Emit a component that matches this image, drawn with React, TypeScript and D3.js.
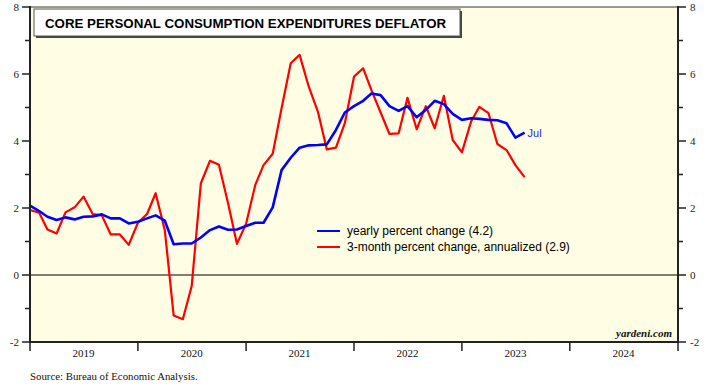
import * as d3 from "d3";

// monthly, Dec 2018 .. Jul 2023 (plotted at month end)
const yearly = [
  2.07,
  1.91, 1.74, 1.64, 1.72, 1.66, 1.74, 1.75, 1.81, 1.69, 1.69, 1.54, 1.59,
  1.69, 1.78, 1.62, 0.92, 0.94, 0.94, 1.12, 1.34, 1.45, 1.35, 1.36, 1.46,
  1.56, 1.56, 2.02, 3.13, 3.5, 3.8, 3.87, 3.88, 3.9, 4.33, 4.85, 5.04,
  5.2, 5.42, 5.37, 5.04, 4.9, 5.04, 4.71, 4.93, 5.2, 5.1, 4.81, 4.63,
  4.68, 4.66, 4.63, 4.62, 4.53, 4.1, 4.25,
];
const threeMonth = [
  1.94,
  1.86, 1.36, 1.24, 1.87, 2.02, 2.34, 1.82, 1.78, 1.21, 1.21, 0.9, 1.56,
  1.82, 2.44, 1.34, -1.21, -1.32, -0.33, 2.74, 3.41, 3.29, 2.14, 0.93, 1.53,
  2.69, 3.28, 3.62, 4.98, 6.32, 6.57, 5.62, 4.87, 3.75, 3.8, 4.53, 5.92,
  6.17, 5.52, 4.85, 4.21, 4.23, 5.29, 4.35, 5.04, 4.38, 5.35, 4.03, 3.66,
  4.58, 5.02, 4.83, 3.91, 3.73, 3.28, 2.92,
];
const years = [2019, 2020, 2021, 2022, 2023, 2024];
const majorTicks = [-2, 0, 2, 4, 6, 8];
const minorTicks = [-1, 1, 3, 5, 7];
const title = "CORE PERSONAL CONSUMPTION EXPENDITURES DEFLATOR";
const legendLabels = [
  "yearly percent change (4.2)",
  "3-month percent change, annualized (2.9)",
];

const W = 708, H = 385;
const left = 30, right = 678, top = 7, bottom = 342;

export default function App() {
  const dates = yearly.map((_, i) => new Date(2018, 12 + i, 1));
  const x = d3.scaleTime()
    .domain([new Date(2019, 0, 1), new Date(2025, 0, 1)])
    .range([left, right]);
  const y = d3.scaleLinear().domain([-2, 8]).range([bottom, top]);

  const line = d3.line<number>()
    .x((_, i) => x(dates[i]))
    .y((d) => y(d));

  const serif = "'Liberation Serif', 'Times New Roman', serif";
  const sans = "'Liberation Sans', Arial, sans-serif";
  const last = dates.length - 1;

  return (
    <svg width={W} height={H} style={{ position: "absolute", left: 0, top: 0 }}>
      <rect x={0} y={0} width={W} height={H} fill="#fff" />
      <rect x={left} y={top} width={right - left} height={bottom - top} fill="#fffde3" />
      <line x1={left} x2={right} y1={top} y2={top} stroke="#333" strokeWidth={1} />

      {/* zero line */}
      <line x1={left} x2={right} y1={y(0)} y2={y(0)} stroke="#000" strokeWidth={1.2} />

      {/* title box */}
      <rect x={36} y={11} width={426} height={27} fill="#444" />
      <rect x={34} y={9} width={426} height={27} fill="#fff" stroke="#555" strokeWidth={1} />
      <text x={45} y={27.5} fontFamily={sans} fontWeight="bold" fontSize={13.3} fill="#000">
        {title}
      </text>

      <path d={line(threeMonth) ?? ""} fill="none" stroke="#ff0000" strokeWidth={2.2} strokeLinejoin="round" />
      <path d={line(yearly) ?? ""} fill="none" stroke="#0000ff" strokeWidth={2.6} strokeLinejoin="round" />
      <text x={x(dates[last]) + 3} y={y(yearly[last]) + 4} fontFamily={sans} fontSize={11} fill="#2a2aff">
        Jul
      </text>

      {/* legend */}
      {legendLabels.map((t, i) => (
        <g key={t}>
          <line x1={317} x2={340} y1={231 + i * 16} y2={231 + i * 16}
            stroke={i === 0 ? "#0000ff" : "#ff0000"} strokeWidth={2} />
          <text x={347} y={235 + i * 16} fontFamily={sans} fontSize={12} fill="#000">{t}</text>
        </g>
      ))}

      <text x={672} y={337} textAnchor="end" fontFamily={serif} fontStyle="italic" fontWeight="bold" fontSize={11} fill="#111">
        yardeni.com
      </text>

      {/* axes */}
      <line x1={left} x2={left} y1={top - 1} y2={bottom + 1} stroke="#222" strokeWidth={2} />
      <line x1={right} x2={right} y1={top - 1} y2={bottom + 1} stroke="#222" strokeWidth={2} />
      <line x1={left - 1} x2={right + 1} y1={bottom} y2={bottom} stroke="#222" strokeWidth={2} />

      {majorTicks.map((v) => (
        <g key={v}>
          <line x1={left - 8} x2={left} y1={y(v)} y2={y(v)} stroke="#222" strokeWidth={1.5} />
          <line x1={right} x2={right + 8} y1={y(v)} y2={y(v)} stroke="#222" strokeWidth={1.5} />
          <text x={left - 11} y={y(v) + 4} textAnchor="end" fontFamily={serif} fontSize={11} fill="#222">{v}</text>
          <text x={right + 12} y={y(v) + 4} fontFamily={serif} fontSize={11} fill="#222">{v}</text>
        </g>
      ))}
      {minorTicks.map((v) => (
        <g key={v}>
          <line x1={left - 5} x2={left} y1={y(v)} y2={y(v)} stroke="#222" strokeWidth={1.5} />
          <line x1={right} x2={right + 5} y1={y(v)} y2={y(v)} stroke="#222" strokeWidth={1.5} />
        </g>
      ))}

      {years.concat([2025]).map((yr) => (
        <line key={yr} x1={x(new Date(yr, 0, 1))} x2={x(new Date(yr, 0, 1))}
          y1={bottom} y2={bottom + 9} stroke="#222" strokeWidth={1.5} />
      ))}
      {years.map((yr) => (
        <text key={yr} x={x(new Date(yr, 6, 1))} y={357} textAnchor="middle" fontFamily={serif} fontSize={11} fill="#111">
          {yr}
        </text>
      ))}

      <text x={30} y={380} fontFamily={serif} fontSize={10.8} fill="#111">
        Source: Bureau of Economic Analysis.
      </text>
    </svg>
  );
}
